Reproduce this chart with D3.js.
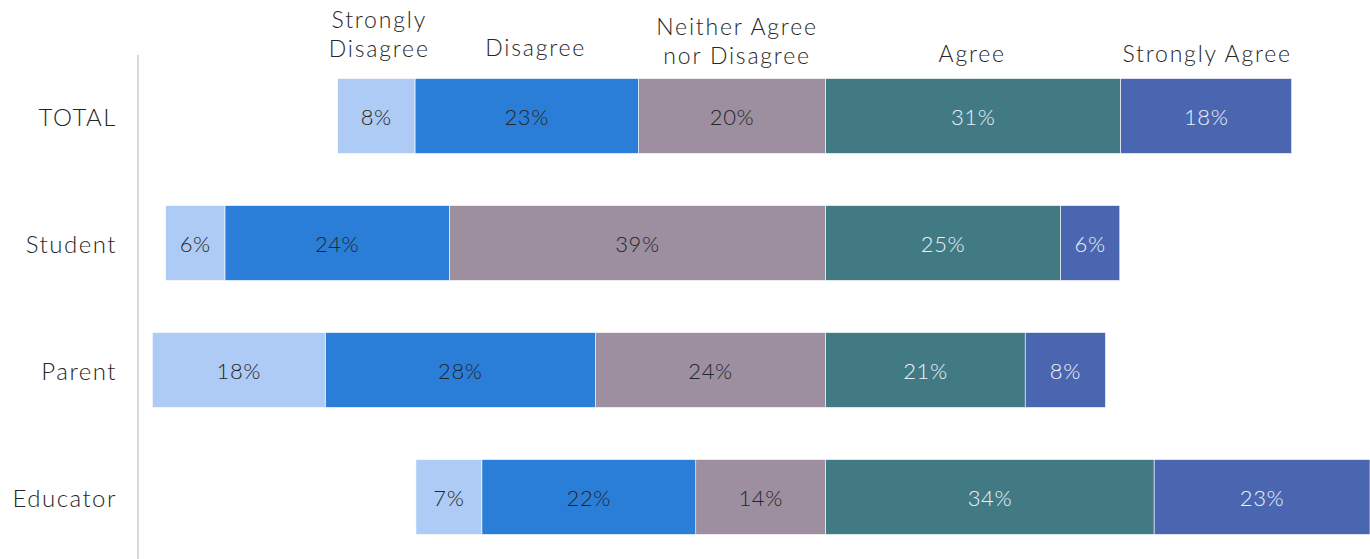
<!DOCTYPE html>
<html>
<head>
    <meta charset="utf-8">
    <style>
        body { margin: 0; background: #fff; }
        text { font-family: "Lato", "Open Sans", sans-serif; font-weight: 300; }
    </style>
</head>
<body>
    <svg width="1370" height="559"></svg>
    <script src="https://d3js.org/d3.v7.min.js"></script>
    <script>
        // categories and response levels
        let groups = ["TOTAL", "Student", "Parent", "Educator"];
        let levels = ["Strongly Disagree", "Disagree", "Neither Agree nor Disagree", "Agree", "Strongly Agree"];
        let headerLines = [["Strongly", "Disagree"], ["Disagree"], ["Neither Agree", "nor Disagree"], ["Agree"], ["Strongly Agree"]];

        // percent values per level, one entry per group
        let stronglyDisagree = [8.1, 6.2, 18.1, 6.9];
        let disagree = [23.4, 23.5, 28.3, 22.4];
        let neither = [19.6, 39.4, 24.1, 13.6];
        let agree = [30.9, 24.6, 20.9, 34.4];
        let stronglyAgree = [17.9, 6.2, 8.4, 22.6];

        let colors = ["#aecbf6", "#2b7ed8", "#9d8f9f", "#427a83", "#4a66b0"];
        let labelColors = ["#262626", "#262626", "#262626", "#eef2f8", "#eef2f8"];

        let series = [stronglyDisagree, disagree, neither, agree, stronglyAgree];

        // build segments: negatives stack leftwards from 0, positives rightwards
        let segs = [];
        groups.forEach((g, gi) => {
            let left = 0;
            [2, 1, 0].forEach(li => {
                let v = series[li][gi];
                segs.push({group: g, level: li, value: v, x0: left - v, x1: left});
                left -= v;
            });
            let right = 0;
            [3, 4].forEach(li => {
                let v = series[li][gi];
                segs.push({group: g, level: li, value: v, x0: right, x1: right + v});
                right += v;
            });
        });

        let svg = d3.select("svg");
        let x = d3.scaleLinear().domain([-72, 57]).range([138, 1370]);
        let y = d3.scaleBand().domain(groups).range([52.5, 560.5])
            .paddingInner(0.41).paddingOuter(0.205);

        svg.append("line")
            .attr("x1", 138).attr("x2", 138)
            .attr("y1", 55).attr("y2", 559)
            .attr("stroke", "#d9d9d9").attr("stroke-width", 2);

        svg.selectAll("rect.seg")
            .data(segs)
            .enter()
            .append("rect")
            .attr("class", "seg")
            .attr("x", d => x(d.x0))
            .attr("width", d => x(d.x1) - x(d.x0))
            .attr("y", d => y(d.group))
            .attr("height", y.bandwidth())
            .attr("fill", d => colors[d.level])
            .attr("stroke", "#fff")
            .attr("stroke-width", 0.6);

        svg.selectAll("text.pct")
            .data(segs)
            .enter()
            .append("text")
            .attr("class", "pct")
            .attr("x", d => x((d.x0 + d.x1) / 2))
            .attr("y", d => y(d.group) + y.bandwidth() / 2 + 1)
            .attr("dy", "0.36em")
            .attr("text-anchor", "middle")
            .attr("font-size", 22)
            .attr("letter-spacing", 0.6)
            .attr("fill", d => labelColors[d.level])
            .text(d => Math.round(d.value) + "%");

        svg.selectAll("text.cat")
            .data(groups)
            .enter()
            .append("text")
            .attr("class", "cat")
            .attr("x", 117)
            .attr("y", d => y(d) + y.bandwidth() / 2 + 1)
            .attr("dy", "0.36em")
            .attr("text-anchor", "end")
            .attr("font-size", 24)
            .attr("letter-spacing", 1.5)
            .attr("fill", "#262626")
            .text(d => d);

        // level headers above the TOTAL bar
        let headerBase = [57, 56, 64, 62, 62];
        let headerNudge = [3, 9, 5, -1, 1];
        let totalSegs = segs.filter(d => d.group === "TOTAL");
        levels.forEach((lv, li) => {
            let s = totalSegs.find(d => d.level === li);
            let cx = x((s.x0 + s.x1) / 2) + headerNudge[li];
            let lines = headerLines[li];
            let t = svg.append("text")
                .attr("class", "hdr")
                .attr("x", cx)
                .attr("y", headerBase[li] - (lines.length - 1) * 29)
                .attr("text-anchor", "middle")
                .attr("font-size", 23)
                .attr("letter-spacing", 1.8)
                .attr("fill", "#262626");
            lines.forEach((ln, i) => {
                t.append("tspan")
                    .attr("x", cx)
                    .attr("dy", i === 0 ? 0 : 29)
                    .text(ln);
            });
        });
    </script>
</body>
</html>
